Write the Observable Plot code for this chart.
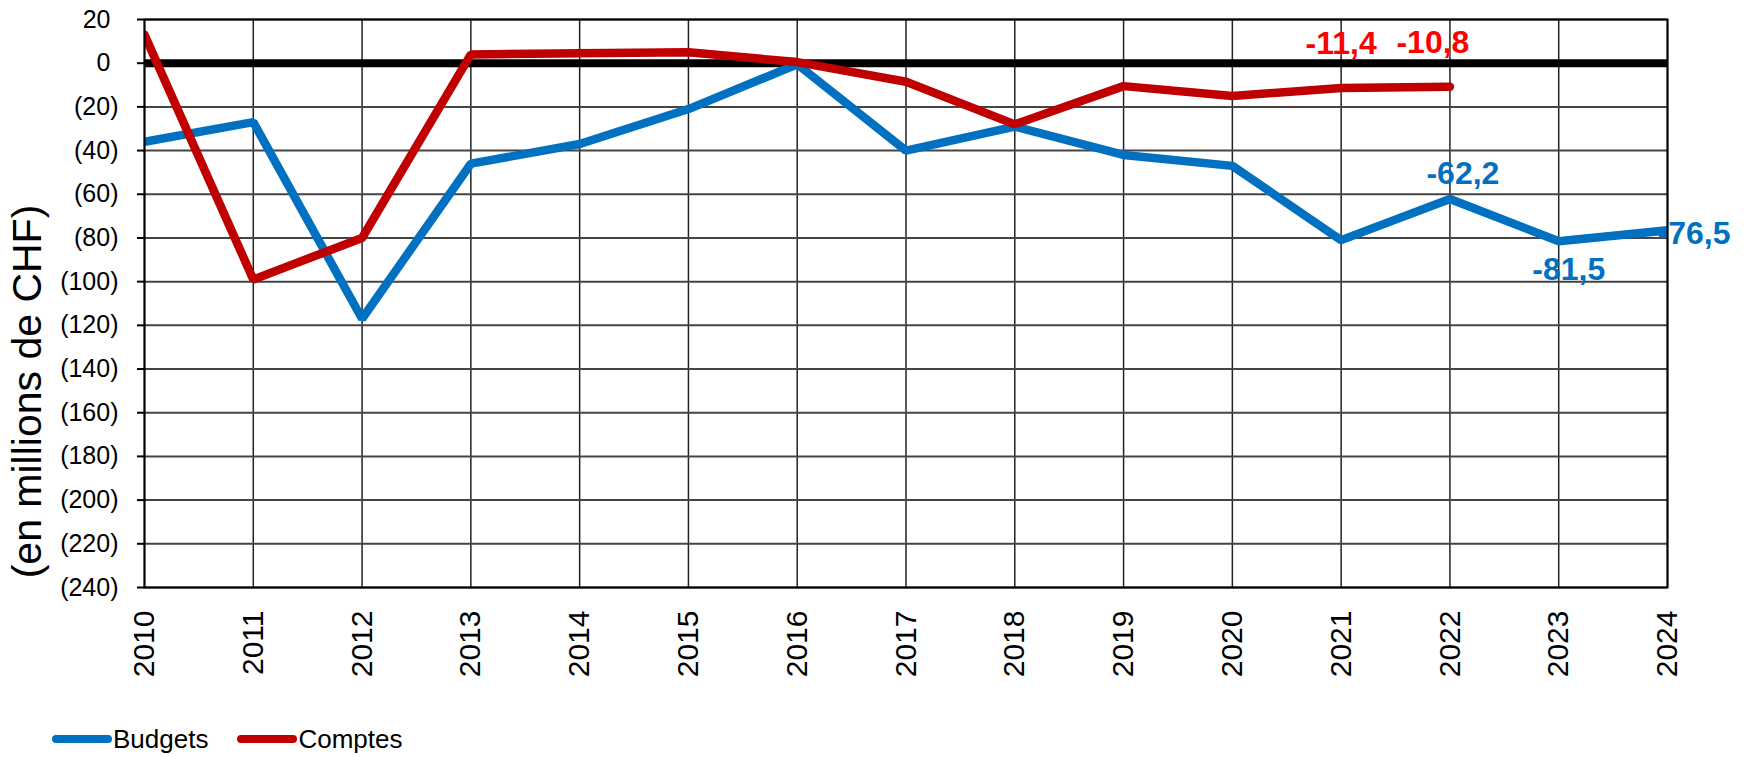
<!DOCTYPE html>
<html>
<head>
<meta charset="utf-8">
<script src="https://cdn.jsdelivr.net/npm/d3@7"></script>
<script src="https://cdn.jsdelivr.net/npm/@observablehq/plot@0.6"></script>
<style>
  html, body { margin: 0; padding: 0; background: #fff; }
  body { width: 1746px; height: 757px; position: relative; overflow: hidden; font-family: "Liberation Sans", Arial, sans-serif; }
  #legend { position: absolute; left: 52px; top: 722px; height: 34px; display: flex; align-items: center; font-size: 26px; color: #000; }
  #legend .item { display: flex; align-items: center; margin-right: 29px; }
  #legend svg { display: block; }
</style>
</head>
<body>
<div id="chart"></div>
<div id="legend"></div>
<script>
// ---- data ----
const years = [2010, 2011, 2012, 2013, 2014, 2015, 2016, 2017, 2018, 2019, 2020, 2021, 2022, 2023, 2024];
const budgetValues = [-36, -27, -117, -46, -37, -21, -0.5, -40, -29, -42, -47, -81, -62.2, -81.5, -76.5];
const compteYears = [2010, 2011, 2012, 2013, 2014, 2015, 2016, 2017, 2018, 2019, 2020, 2021, 2022];
const compteValues = [13, -99, -80, 4, 4.5, 5, 0.5, -8.5, -28, -10.5, -15, -11.4, -10.8];
const yTicks = [20, 0, -20, -40, -60, -80, -100, -120, -140, -160, -180, -200, -220, -240];
const seriesNames = ["Budgets", "Comptes"];
const yTitle = "(en millions de CHF)";

const budgets = years.map((y, i) => ({year: y, value: budgetValues[i]}));
const comptes = compteYears.map((y, i) => ({year: y, value: compteValues[i]}));

const fmt = v => v.toFixed(1).replace(".", ",");
const tickFmt = v => v < 0 ? `(${-v})` : `${v}`;

const BLUE = "#0070C0", RED = "#C00000", RED_LABEL = "#FF0000";
const font = "Liberation Sans, Arial, sans-serif";

const pick = (arr, yr) => arr.filter(d => d.year === yr);

const chart = Plot.plot({
  width: 1746,
  height: 715,
  marginLeft: 144,
  marginRight: 79,
  marginTop: 19,
  marginBottom: 128,
  style: {fontFamily: font, fontSize: "25px", color: "#000", background: "#fff"},
  x: {domain: [2010, 2024], type: "linear"},
  y: {domain: [-240, 20]},
  marks: [
    Plot.gridX(years, {stroke: "#222", strokeOpacity: 1, strokeWidth: 1.5}),
    Plot.gridY(yTicks, {stroke: "#444", strokeOpacity: 1, strokeWidth: 2}),
    Plot.ruleY([0], {stroke: "#000", strokeWidth: 8}),
    // label whose minus sign sits under the line end
    Plot.text(pick(budgets, 2024), {x: "year", y: "value", text: d => fmt(d.value), fill: BLUE, fontWeight: "bold", fontSize: 32, textAnchor: "start", dx: -10, dy: 3}),
    Plot.line(budgets, {x: "year", y: "value", stroke: BLUE, strokeWidth: 8.5, strokeLinecap: "round", strokeLinejoin: "miter", clip: true}),
    Plot.line(comptes, {x: "year", y: "value", stroke: RED, strokeWidth: 8.5, strokeLinecap: "round", strokeLinejoin: "miter", clip: true}),
    Plot.frame({stroke: "#000", strokeWidth: 2}),
    Plot.axisY({ticks: yTicks, tickSize: 7, tickFormat: () => "", label: null, stroke: "#000", strokeWidth: 2}),
    Plot.text(yTicks.filter(v => v < 0), {y: d => d, frameAnchor: "left", textAnchor: "end", dx: -26, text: tickFmt, fontSize: 25}),
    Plot.text(yTicks.filter(v => v >= 0), {y: d => d, frameAnchor: "left", textAnchor: "end", dx: -34, text: tickFmt, fontSize: 25}),
    Plot.axisX({ticks: years, tickFormat: d => String(d), tickRotate: -90, tickSize: 0, tickPadding: 23, fontSize: 30, label: null}),
    Plot.text([yTitle], {frameAnchor: "left", textAnchor: "middle", dx: -117, dy: 88, rotate: -90, text: d => d, fontSize: 41}),
    // data labels
    Plot.text(pick(comptes, 2021), {x: "year", y: "value", text: d => fmt(d.value), fill: RED_LABEL, fontWeight: "bold", fontSize: 32, dy: -44}),
    Plot.text(pick(comptes, 2022), {x: "year", y: "value", text: d => fmt(d.value), fill: RED_LABEL, fontWeight: "bold", fontSize: 32, dx: -17, dy: -44}),
    Plot.text(pick(budgets, 2022), {x: "year", y: "value", text: d => fmt(d.value), fill: BLUE, fontWeight: "bold", fontSize: 32, dx: 13, dy: -25}),
    Plot.text(pick(budgets, 2023), {x: "year", y: "value", text: d => fmt(d.value), fill: BLUE, fontWeight: "bold", fontSize: 32, dx: 10, dy: 29})
  ]
});
document.getElementById("chart").appendChild(chart);

// legend
const colors = {Budgets: BLUE, Comptes: RED};
const legend = document.getElementById("legend");
seriesNames.forEach(name => {
  const item = document.createElement("div");
  item.className = "item";
  item.innerHTML = `<svg width="60" height="12"><line x1="4" y1="6" x2="56" y2="6" stroke="${colors[name]}" stroke-width="8" stroke-linecap="round"/></svg><span style="margin-left:1px">${name}</span>`;
  legend.appendChild(item);
});
</script>
</body>
</html>
